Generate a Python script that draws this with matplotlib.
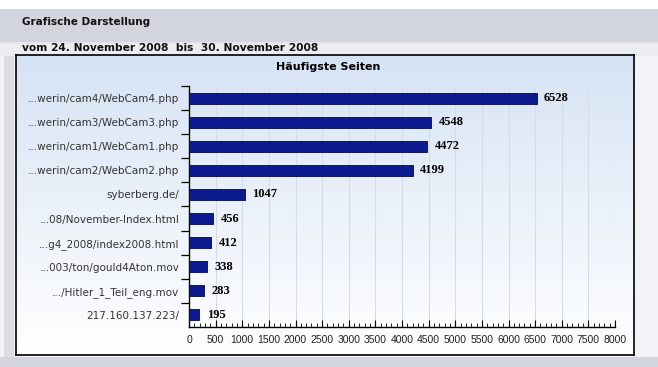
import matplotlib
matplotlib.use("Agg")
import matplotlib.pyplot as plt
import numpy as np
from matplotlib.patches import Rectangle
from matplotlib.ticker import MultipleLocator, FixedLocator

# data
pages = ["...werin/cam4/WebCam4.php", "...werin/cam3/WebCam3.php",
         "...werin/cam1/WebCam1.php", "...werin/cam2/WebCam2.php",
         "syberberg.de/", "...08/November-Index.html",
         "...g4_2008/index2008.html", "...003/ton/gould4Aton.mov",
         ".../Hitler_1_Teil_eng.mov", "217.160.137.223/"]
hits = [6528, 4548, 4472, 4199, 1047, 456, 412, 338, 283, 195]
x_ticks = list(range(0, 8001, 500))

header = "Grafische Darstellung"
period = "vom 24. November 2008  bis  30. November 2008"
title = "Häufigste Seiten"

W, H = 658, 367
fig = plt.figure(figsize=(W / 100, H / 100), dpi=100)
fig.patch.set_facecolor("white")


def px_rect(x0, y0, x1, y1, color):
    # rectangle in pixel coords (top-left origin)
    fig.patches.append(Rectangle((x0 / W, 1 - y1 / H), (x1 - x0) / W, (y1 - y0) / H,
                                 transform=fig.transFigure, facecolor=color,
                                 edgecolor="none", zorder=-10))


# page background bands
px_rect(0, 9, W, 42, "#d2d5dd")
px_rect(0, 42, W, 44, "#e4e6ea")
px_rect(0, 44, W, 56, "#ebedf0")
px_rect(0, 56, W, 357, "#f2f3f6")
px_rect(4, 56, 14, 357, "#d9dce3")
px_rect(0, 357, W, H, "#d2d5dd")

fig.text(22 / W, 1 - 22 / H, header, fontsize=7.5, fontweight="bold",
         color="#111111", va="center", ha="left")
fig.text(22 / W, 1 - 48 / H, period, fontsize=7.7, fontweight="bold",
         color="#111111", va="center", ha="left")

# chart box with vertical gradient
box = fig.add_axes([16 / W, 1 - 355 / H, 618 / W, 300 / H])
grad = np.linspace(0, 1, 256).reshape(-1, 1)
top = np.array([0.84, 0.89, 0.96])
bot = np.array([1.0, 1.0, 1.0])
img = top + (bot - top) * grad[..., None]
box.imshow(img, aspect="auto", extent=[0, 1, 0, 1], origin="upper")
box.set_xticks([])
box.set_yticks([])
for s in box.spines.values():
    s.set_color("black")
    s.set_linewidth(1.2)

fig.text(328 / W, 1 - 67 / H, title, fontsize=8, fontweight="bold",
         color="black", ha="center", va="center")

# bar chart
ax = fig.add_axes([189 / W, 1 - 327 / H, 426 / W, 241 / H])
ax.patch.set_alpha(0)
y = np.arange(len(pages))
ax.barh(y, hits, height=0.46, color="#0b1b8f", edgecolor="#050a40",
        linewidth=0.6, zorder=3)
ax.set_xlim(0, 8000)
ax.set_ylim(len(pages) - 0.5, -0.5)

for yi, v in zip(y, hits):
    ax.text(v + 140, yi, str(v), fontsize=9, fontweight="bold",
            family="Liberation Serif", va="center", ha="left", zorder=4)

ax.set_xticks(x_ticks)
ax.set_xticklabels([str(t) for t in x_ticks], fontsize=7.5,
                   family="Liberation Sans", color="#222222")
ax.xaxis.set_minor_locator(MultipleLocator(100))
ax.tick_params(axis="x", which="major", direction="in", length=5, width=0.8, pad=6)
ax.tick_params(axis="x", which="minor", direction="in", length=3, width=0.6)
ax.grid(axis="x", which="major", color="#d6dce6", linewidth=0.8, zorder=1)

ax.set_yticks(y)
ax.set_yticklabels(pages, fontsize=7.5, color="#333333")
ax.yaxis.set_minor_locator(FixedLocator(np.arange(-0.5, len(pages) - 1, 1.0)))
ax.tick_params(axis="y", which="major", length=0, pad=7)
ax.tick_params(axis="y", which="minor", direction="out", length=6, width=0.9)

for side in ["top", "right"]:
    ax.spines[side].set_visible(False)
for side in ["left", "bottom"]:
    ax.spines[side].set_color("black")
    ax.spines[side].set_linewidth(1.0)

fig.savefig("out.png", dpi=100)
